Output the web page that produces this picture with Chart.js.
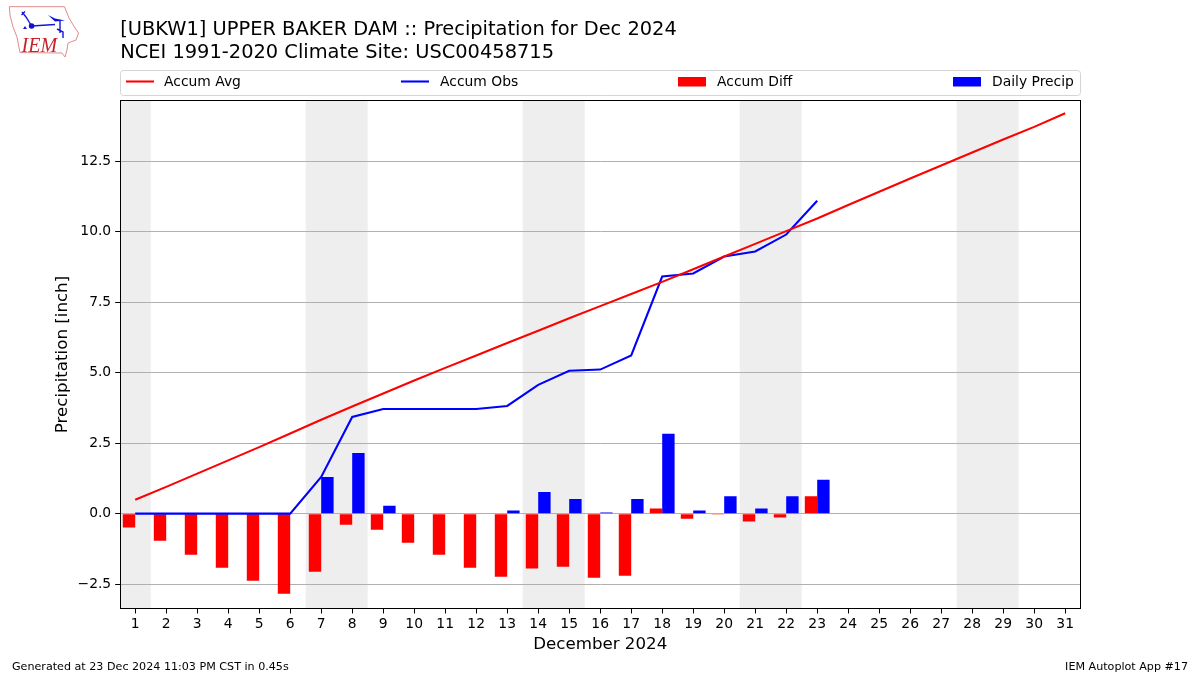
<!DOCTYPE html>
<html>
<head>
<meta charset="utf-8">
<title>Precipitation for Dec 2024</title>
<script src="https://cdn.jsdelivr.net/npm/chart.js@4/dist/chart.umd.min.js"></script>
<style>
html,body{margin:0;padding:0;background:#fff;width:1200px;height:675px;overflow:hidden}
#wrap{position:relative;width:1200px;height:675px}
canvas{position:absolute;left:0;top:0}
#logo{position:absolute;left:0;top:0}
</style>
</head>
<body>
<div id="wrap">
<canvas id="c" width="1200" height="675"></canvas>
<svg id="logo" width="90" height="65" viewBox="0 0 90 65">
  <path d="M9.3 6.7 L64.5 6.7 L69 18 L75 28 L78.6 33 L76 40 L68 43 L67 50 L65 57 L62 53 L20 52.6 L17 37 L13 27 L10 15 Z" fill="#fff" stroke="#e08a8a" stroke-width="1"/>
  <path d="M31.6 26 L55 24.5 M60 21 V33 M57 29 L63 32 V38 M22 12 L26 17 L31 25 M21.5 15 L25 11.5" fill="none" stroke="#1414e0" stroke-width="1.4"/>
  <circle cx="31.6" cy="26" r="2.8" fill="#1010d8"/>
  <path d="M48 15 L55 18.5 L65 20.5 L55 21.5 Z" fill="#1010d8"/>
  <path d="M23 29 l2 -3 l2 3 Z" fill="#1414e0"/>
  <text x="21.5" y="52" font-family="Liberation Serif" font-style="italic" font-size="20" fill="#c8232c">IEM</text>
</svg>
</div>
<script>
const days = [1,2,3,4,5,6,7,8,9,10,11,12,13,14,15,16,17,18,19,20,21,22,23,24,25,26,27,28,29,30,31];
const accumAvg = [0.49,0.95,1.42,1.89,2.36,2.84,3.33,3.80,4.26,4.72,5.17,5.61,6.05,6.49,6.93,7.36,7.79,8.22,8.67,9.12,9.57,10.02,10.47,10.95,11.42,11.89,12.35,12.81,13.27,13.72,14.20];
const accumObs = [0,0,0,0,0,0,1.30,3.43,3.71,3.71,3.71,3.71,3.82,4.57,5.07,5.11,5.61,8.41,8.52,9.12,9.30,9.90,11.10];
const accumDiff = [-0.49,-0.96,-1.46,-1.92,-2.38,-2.84,-2.06,-0.39,-0.57,-1.03,-1.46,-1.92,-2.24,-1.95,-1.88,-2.27,-2.20,0.18,-0.18,-0.03,-0.28,-0.14,0.62];
const dailyPrecip = [0,0,0,0,0,0,1.30,2.15,0.28,0,0,0,0.11,0.77,0.52,0.04,0.52,2.83,0.11,0.62,0.18,0.62,1.20];
const yTicks = [-2.5,0,2.5,5,7.5,10,12.5];
const weekendSpans = [[0.5,1.5],[6.5,8.5],[13.5,15.5],[20.5,22.5],[27.5,29.5]];
const titleLines = ['[UBKW1] UPPER BAKER DAM :: Precipitation for Dec 2024','NCEI 1991-2020 Climate Site: USC00458715'];
const xTitle = 'December 2024';
const yTitle = 'Precipitation [inch]';
const footerLeft = 'Generated at 23 Dec 2024 11:03 PM CST in 0.45s';
const footerRight = 'IEM Autoplot App #17';

const FONT = '"DejaVu Sans"';
const toPoints = arr => arr.map((y, i) => ({x: days[i], y}));

const chromePlugin = {
  id: 'chrome',
  beforeDraw(chart) {
    const {ctx, chartArea: a, scales: {x}} = chart;
    ctx.save();
    ctx.fillStyle = '#ffffff';
    ctx.fillRect(0, 0, chart.width, chart.height);
    ctx.fillStyle = '#eeeeee';
    weekendSpans.forEach(([s, e]) => {
      const l = Math.max(a.left, x.getPixelForValue(s));
      const r = x.getPixelForValue(e);
      ctx.fillRect(l, a.top, r - l, a.bottom - a.top);
    });
    ctx.restore();
  },
  afterDraw(chart) {
    const {ctx, chartArea: a} = chart;
    ctx.save();
    // axes frame
    ctx.strokeStyle = '#000';
    ctx.lineWidth = 1;
    ctx.strokeRect(Math.floor(a.left) + 0.5, Math.floor(a.top) + 0.5, Math.round(a.right - a.left), Math.round(a.bottom - a.top));
    // legend frame
    ctx.strokeStyle = '#d5d5d5';
    ctx.beginPath();
    ctx.roundRect(120.5, 70.5, 960, 25, 3);
    ctx.stroke();
    // legend entries
    ctx.font = '13.89px ' + FONT;
    ctx.textBaseline = 'middle';
    ctx.textAlign = 'left';
    const entries = [[126, 164], [401, 440], [678, 717], [953, 992]];
    chart.data.datasets.forEach((ds, i) => {
      const [mx, tx] = entries[i];
      if (ds.type === 'line') {
        ctx.strokeStyle = ds.borderColor;
        ctx.lineWidth = 2.08;
        ctx.beginPath();
        ctx.moveTo(mx, 81.5);
        ctx.lineTo(mx + 28, 81.5);
        ctx.stroke();
      } else {
        ctx.fillStyle = ds.backgroundColor;
        ctx.fillRect(mx, 77, 28, 9.5);
      }
      ctx.fillStyle = '#000';
      ctx.fillText(ds.label, tx, 82.5);
    });
    // footer
    ctx.font = '11.13px ' + FONT;
    ctx.fillStyle = '#000';
    ctx.textBaseline = 'alphabetic';
    ctx.fillText(footerLeft, 12, 670);
    ctx.textAlign = 'right';
    ctx.fillText(footerRight, 1188, 670);
    ctx.restore();
  }
};

new Chart(document.getElementById('c'), {
  data: {
    datasets: [
      {type:'line', label:'Accum Avg', data:toPoints(accumAvg), borderColor:'#ff0000', backgroundColor:'#ff0000', borderWidth:2.08, pointRadius:0, tension:0, order:1, fill:false},
      {type:'line', label:'Accum Obs', data:toPoints(accumObs), borderColor:'#0000ff', backgroundColor:'#0000ff', borderWidth:2.08, pointRadius:0, tension:0, order:1, fill:false},
      {type:'bar', label:'Accum Diff', data:toPoints(accumDiff), backgroundColor:'#ff0000', borderWidth:0, categoryPercentage:0.8, barPercentage:1, order:2},
      {type:'bar', label:'Daily Precip', data:toPoints(dailyPrecip), backgroundColor:'#0000ff', borderWidth:0, categoryPercentage:0.8, barPercentage:1, order:2}
    ]
  },
  plugins: [chromePlugin],
  options: {
    responsive: false,
    animation: false,
    layout: {padding: {left: 0, right: 119.8, top: 0, bottom: 0}},
    plugins: {
      legend: {display: false},
      tooltip: {enabled: false},
      title: {
        display: true,
        text: titleLines,
        align: 'start',
        fullSize: false,
        color: '#000',
        font: {family: FONT, size: 19.42, weight: 'normal', lineHeight: 1.15},
        padding: {top: 19, bottom: 36.83}
      }
    },
    scales: {
      x: {
        type: 'linear',
        offset: false,
        min: 0.516,
        max: 31.484,
        afterBuildTicks(s) { s.ticks = days.map(v => ({value: v})); },
        grid: {display: true, offset: false, drawOnChartArea: false, drawTicks: true, tickLength: 5, tickColor: '#000'},
        border: {color: '#000', width: 1},
        ticks: {color: '#000', font: {family: FONT, size: 13.89}, maxRotation: 0, autoSkip: false, padding: 3, callback: v => String(v)},
        title: {display: true, text: xTitle, color: '#000', font: {family: FONT, size: 16.67}, padding: {top: 4, bottom: 20}},
        afterFit(s) { s.height = 66.5; }
      },
      y: {
        type: 'linear',
        min: -3.365,
        max: 14.655,
        afterBuildTicks(s) { s.ticks = yTicks.map(v => ({value: v})); },
        grid: {color: '#b0b0b0', lineWidth: 1, tickLength: 5, tickColor: '#000'},
        border: {color: '#000', width: 1},
        ticks: {
          color: '#000',
          font: {family: FONT, size: 13.89},
          padding: 4,
          callback: v => (v < 0 ? '\u2212' + Math.abs(v).toFixed(1) : v.toFixed(1))
        },
        title: {display: true, text: yTitle, color: '#000', font: {family: FONT, size: 16.67}, padding: {top: 53, bottom: 0}},
        afterFit(s) { s.width = 120.2; }
      }
    }
  }
});
</script>
</body>
</html>
